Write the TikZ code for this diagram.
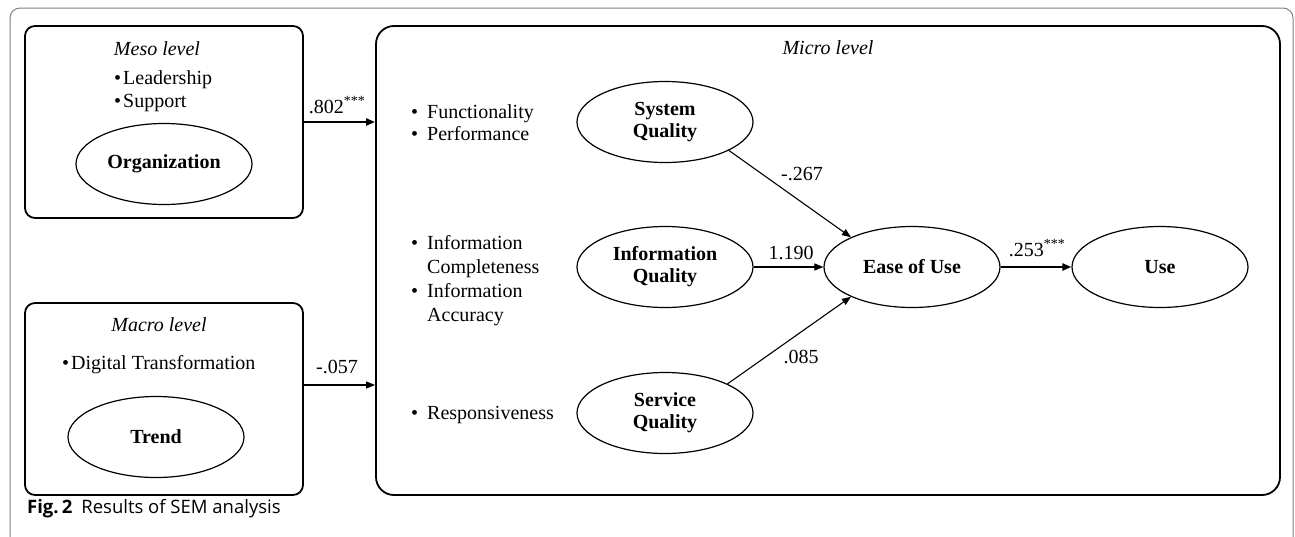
\documentclass[tikz,border=0pt]{standalone}
\usepackage{fontspec}
\setmainfont{Liberation Serif}
\newfontfamily\capfont{Open Sans}
\usetikzlibrary{shapes.geometric,arrows.meta}
\begin{document}
\begin{tikzpicture}[x=1pt,y=-1pt,
  lvbox/.style={draw,line width=1.8pt,rounded corners=10pt,inner sep=0pt},
  latent/.style={draw,ellipse,line width=1.2pt,minimum width=176pt,minimum height=81pt,inner sep=0pt,
    font=\fontsize{20}{22}\selectfont\bfseries,align=center},
  txt/.style={font=\fontsize{20}{23}\selectfont,inner sep=0pt},
  ttl/.style={font=\fontsize{20}{23}\selectfont\itshape,inner sep=0pt},
  lbl/.style={font=\fontsize{20}{23}\selectfont,inner sep=0pt},
  conn/.style={line width=1.1pt,-{Triangle[length=9pt,width=7pt]}},
  connthick/.style={line width=2.4pt,-{Triangle[length=9pt,width=7pt]}}
]
\useasboundingbox (0,0) rectangle (1295,536);
\clip (0,0) rectangle (1295,536);
% outer frame
\draw[black!50,line width=1pt,rounded corners=10pt] (10,560) -- (10,8) -- (1293,8) -- (1293,560);

% level boxes
\node[lvbox,minimum width=278pt,minimum height=192pt] (meso) at (164,122) {};
\node[lvbox,minimum width=278pt,minimum height=192pt] (macro) at (164,399) {};
\node[lvbox,rounded corners=18pt,minimum width=904pt,minimum height=469pt] (micro) at (828,260.5) {};

% meso content
\node[ttl] (mesot) at (157,49) {Meso level};
\node[txt,align=left,anchor=west] (mesob) at (114,91.5) {\textbullet\kern2pt Leadership\\\textbullet\kern2pt Support};
\node[latent] (org) at (164,164) {Organization};

% macro content
\node[ttl] (macrot) at (159,325) {Macro level};
\node[txt,anchor=west] (macrob) at (62,365) {\textbullet\kern2pt Digital Transformation};
\node[latent] (trend) at (156,437) {Trend};

% micro content
\node[ttl] (microt) at (828,48) {Micro level};
\node[txt,align=left,anchor=west] (b1) at (411,122.5)
  {\makebox[16pt][l]{\textbullet}Functionality\\[-1pt]\makebox[16pt][l]{\textbullet}Performance};
\node[txt,align=left,anchor=west,font=\fontsize{20}{24}\selectfont] (b2) at (411,281)
  {\makebox[16pt][l]{\textbullet}Information\\\makebox[16pt][l]{}Completeness\\\makebox[16pt][l]{\textbullet}Information\\\makebox[16pt][l]{}Accuracy};
\node[txt,anchor=west] (b3) at (411,415) {\makebox[16pt][l]{\textbullet}Responsiveness};

\node[latent] (sq) at (665,122) {System\\Quality};
\node[latent] (iq) at (665,267) {Information\\Quality};
\node[latent] (svq) at (665,413) {Service\\Quality};
\node[latent] (ease) at (912,267) {Ease of Use};
\node[latent] (use) at (1160,267) {Use};

% connectors
\draw[connthick] (meso.east) -- (meso.east -| micro.west);
\draw[conn] ([yshift=14pt]macro.east) -- ([yshift=14pt]macro.east -| micro.west);
\draw[conn] (sq.-24) -- (ease.154);
\draw[conn] (iq.east) -- (ease.west);
\draw[conn] (svq.25) -- (ease.206);
\draw[connthick] (ease.east) -- (use.west);

% labels
\node[lbl] (l1) at (337,105) {.802\textsuperscript{***}};
\node[lbl] (l2) at (337,367) {-.057};
\node[lbl] (l3) at (802,174) {-.267};
\node[lbl] (l4) at (791,253) {1.190};
\node[lbl] (l5) at (801,357) {.085};
\node[lbl] (l6) at (1037,248) {.253\textsuperscript{***}};

% caption
\node[anchor=west,inner sep=0pt,font=\capfont\fontsize{18.5}{20}\selectfont] (cap) at (27,509)
  {\textbf{Fig.\,2}\hspace{9pt}Results of SEM analysis};
\end{tikzpicture}
\end{document}
